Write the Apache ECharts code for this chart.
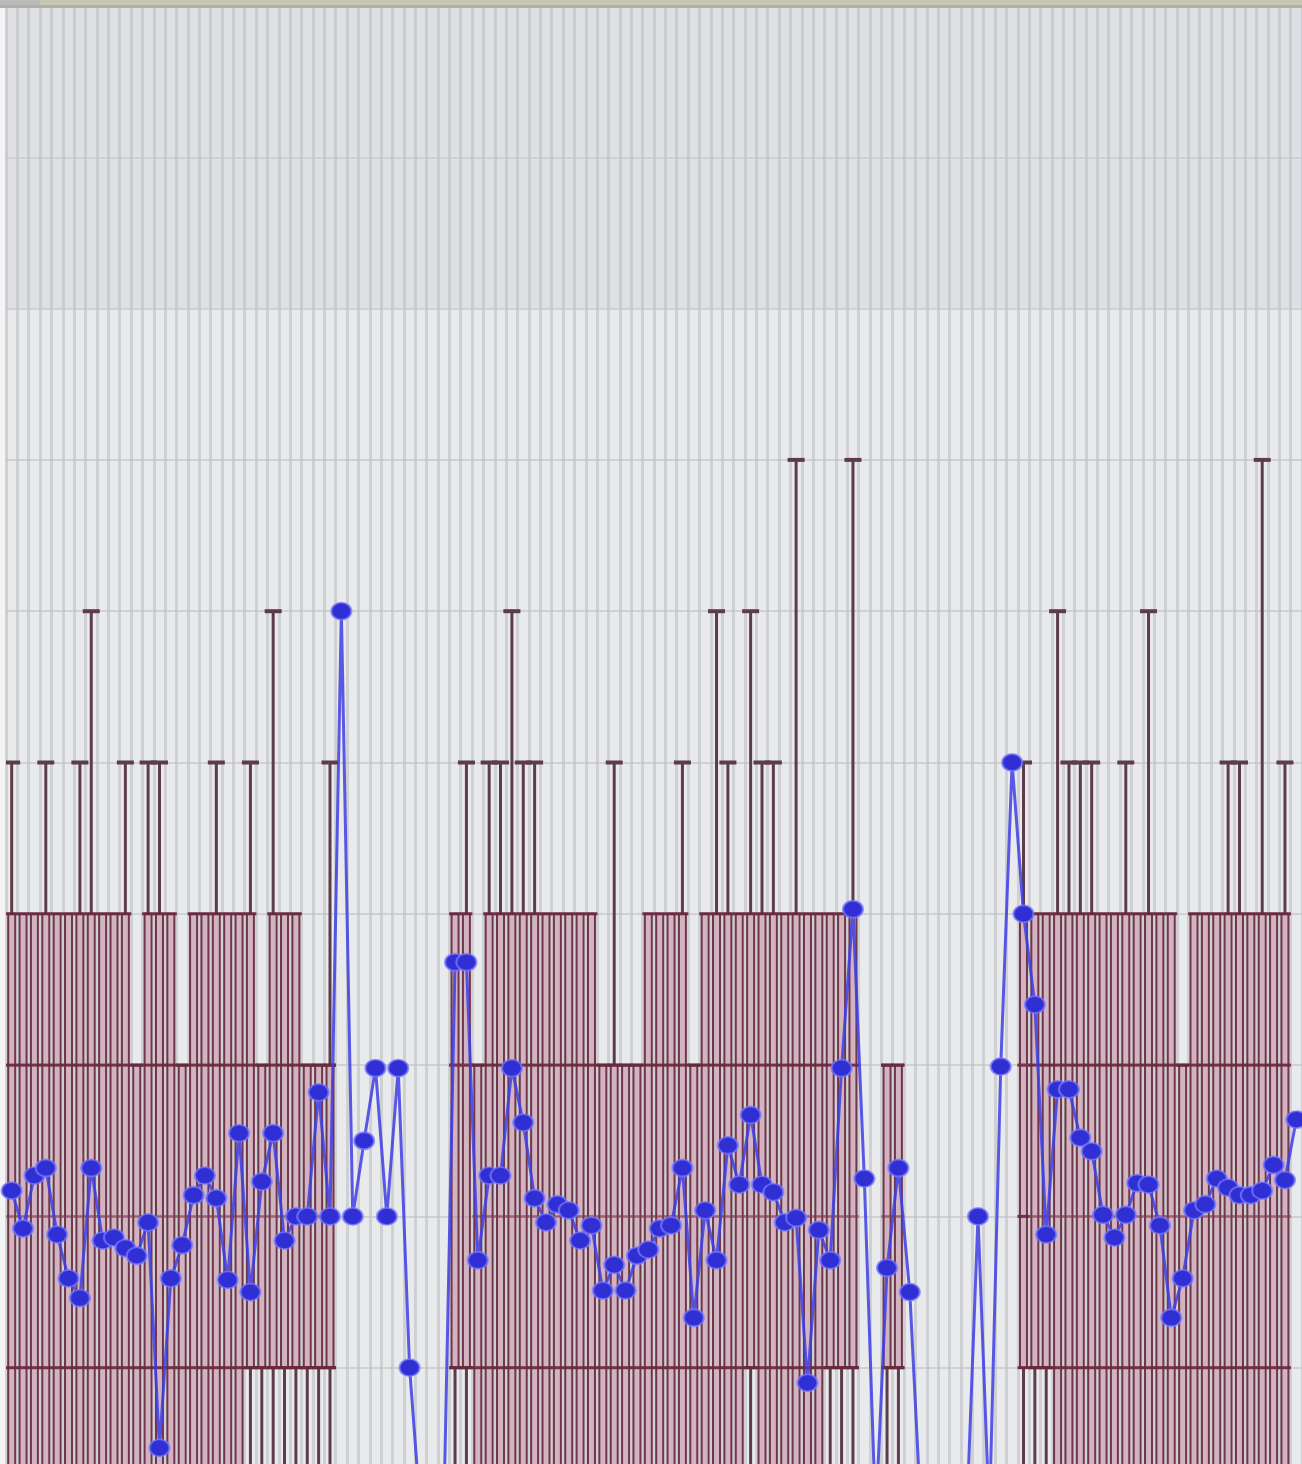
<!DOCTYPE html>
<html><head><meta charset="utf-8">
<script src="https://cdn.jsdelivr.net/npm/echarts@6/dist/echarts.min.js"></script>
<style>html,body{margin:0;padding:0;background:#f4f4f4}#c{width:1302px;height:1464px}</style>
</head><body><div id="c"></div>
<script>
// ---- data (one range box + one mean per category) ----
const categories = Array.from({length:114}, (_, i) => String(i + 1));

const meanValues = [
 2.17,1.92,2.27,2.32,1.88,1.59,1.46,2.32,1.84,1.86,1.79,1.74,1.96,0.47,1.59,1.81,2.14,2.27,2.12,1.58,
 2.55,1.50,2.23,2.55,1.84,2.00,2.00,2.82,2.00,6.00,2.00,2.50,2.98,2.00,2.98,1.00,0,0,0,
 3.68,3.68,1.71,2.27,2.27,2.98,2.62,2.12,1.96,2.08,2.04,1.84,1.94,1.51,1.68,1.51,1.74,1.78,1.92,1.94,
 2.32,1.33,2.04,1.71,2.47,2.21,2.67,2.21,2.16,1.96,1.99,0.90,1.91,1.71,2.98,4.03,2.25,0,1.66,2.32,1.50,
 0,0,0,0,0,2.00,0,2.99,5.00,4.00,3.40,1.88,2.84,2.84,2.52,2.43,2.01,1.86,2.01,2.22,
 2.21,1.94,1.33,1.59,2.04,2.08,2.25,2.19,2.14,2.14,2.17,2.34,2.24,2.64
];

const N = null;
// lower whisker end
const boxMin = [
 0,0,0,0,0,0,0,0,0,0, 0,0,0,0,0,0,0,0,0,0, 0,0,0,0,0,0,0,0,0,6,
 N,N,N,N,N,N,N,N,N,
 0,0,0,0,0,0,0,0,0,0, 0,0,0,0,0,0,0,0,0,0, 0,0,0,0,0,0,0,0,0,0, 0,0,0,0,0,0,0,N,0,0,0,
 N,N,N,N,N,N,N,N,N,
 0,0,0,0,0,0,0,0,0,0, 0,0,0,0,0,0,0,0,0,0, 0,0,0,0,0
];
// bottom of the box
const boxLow = [
 0,0,0,0,0,0,0,0,0,0, 0,0,0,0,0,0,0,0,0,0, 0,1,1,1,1,1,1,1,1,6,
 N,N,N,N,N,N,N,N,N,
 1,1,0,0,0,0,0,0,0,0, 0,0,0,0,0,0,0,0,0,0, 0,0,0,0,0,0,1,0,0,0, 0,0,0,1,1,1,N,1,1,1,
 N,N,N,N,N,N,N,N,N,
 2,1,1,1,0,0,0,0,0,0, 0,0,0,0,0,0,0,0,0,0, 0,0,0,0,0
];
const boxQ1 = [
 1,1,1,1,1,1,1,1,1,1, 1,1,1,1,1,1,1,1,1,1, 1,1,1,1,1,1,1,1,1,6,
 N,N,N,N,N,N,N,N,N,
 1,1,1,1,1,1,1,1,1,1, 1,1,1,1,1,1,1,1,1,1, 1,1,1,1,1,1,1,1,1,1, 1,1,1,1,1,1,1,N,1,1,1,
 N,N,N,N,N,N,N,N,N,
 2,1,1,1,1,1,1,1,1,1, 1,1,1,1,1,1,1,1,1,1, 1,1,1,1,1
];
const boxMedian = [
 2,2,2,2,2,2,2,2,2,2, 2,2,2,2,2,2,2,2,2,2, 2,2,2,2,2,2,2,2,2,6,
 N,N,N,N,N,N,N,N,N,
 3,3,2,2,2,2,2,2,2,2, 2,2,2,2,2,2,2,2,2,2, 2,2,2,2,2,2,2,2,2,2, 2,2,2,2,2,2,2,N,2,2,2,
 N,N,N,N,N,N,N,N,N,
 3,2,2,2,2,2,2,2,2,2, 2,2,2,2,2,2,2,2,2,2, 2,2,2,2,2
];
const boxQ3 = [
 3,3,3,3,3,3,3,3,3,3, 3,3,3,3,3,3,3,3,3,3, 3,3,3,3,3,3,3,3,3,6,
 N,N,N,N,N,N,N,N,N,
 3,3,3,3,3,3,3,3,3,3, 3,3,3,3,3,3,3,3,3,3, 3,3,3,3,3,3,3,3,3,3, 3,3,3,3,3,3,3,N,3,3,3,
 N,N,N,N,N,N,N,N,N,
 3,3,3,3,3,3,3,3,3,3, 3,3,3,3,3,3,3,3,3,3, 3,3,3,3,3
];
// top of the box
const boxHigh = [
 4,4,4,4,4,4,4,4,4,4, 4,3,4,4,4,3,4,4,4,4, 4,4,3,4,4,4,3,3,3,6,
 N,N,N,N,N,N,N,N,N,
 4,4,3,4,4,4,4,4,4,4, 4,4,4,3,3,3,3,4,4,4, 4,3,4,4,4,4,4,4,4,4, 4,4,4,4,4,4,4,N,3,3,3,
 N,N,N,N,N,N,N,N,N,
 4,4,4,4,4,4,4,4,4,4, 4,4,4,4,3,4,4,4,4,4, 4,4,4,4,4
];
// upper whisker end
const boxMax = [
 5,4,4,5,4,4,5,6,4,4, 5,3,5,5,4,3,4,4,5,4, 4,5,3,6,4,4,3,3,5,6,
 N,N,N,N,N,N,N,N,N,
 4,5,3,5,5,6,5,5,4,4, 4,4,4,3,5,3,3,4,4,4, 5,3,4,6,5,4,6,5,5,4, 7,4,4,4,4,7,4,N,3,3,3,
 N,N,N,N,N,N,N,N,N,
 5,4,4,6,5,5,5,4,4,5, 4,6,4,4,3,4,4,4,5,5, 4,7,4,5,5,6
];

const boxData = [];
for (let i = 0; i < categories.length; i++) {
  if (boxLow[i] == null || boxMax[i] == null) continue;
  boxData.push([i, boxMin[i], boxLow[i], boxQ1[i], boxMedian[i], boxQ3[i], boxHigh[i], boxMax[i]]);
}

function renderBox(params, api) {
  const i = api.value(0);
  const y = k => api.coord([i, api.value(k)])[1];
  const cx = api.coord([i, api.value(1)])[0];
  const yMin = y(1), yLow = y(2), yQ1 = y(3), yMed = y(4), yQ3 = y(5), yHigh = y(6), yMax = y(7);
  const bw = 7, cap = 17, hw = 12;
  const edge = 'rgba(104,40,62,0.92)';
  const soft = 'rgba(130,55,75,0.6)';
  const stem = '#5d3c49';
  const ch = [];
  ch.push({type:'line', shape:{x1:cx, y1:yHigh, x2:cx, y2:yMax}, style:{stroke:stem, lineWidth:3}});
  ch.push({type:'line', shape:{x1:cx, y1:yLow, x2:cx, y2:yMin}, style:{stroke:stem, lineWidth:3}});
  ch.push({type:'rect', shape:{x:cx - bw/2, y:yHigh, width:bw, height:yLow - yHigh},
           style:{fill:'rgba(165,85,115,0.36)', stroke:edge, lineWidth:2}});
  [yHigh, yQ3, yQ1, yLow].forEach(v => ch.push({type:'line', shape:{x1:cx - hw/2, y1:v, x2:cx + hw/2, y2:v},
           style:{stroke:edge, lineWidth:3}}));
  ch.push({type:'line', shape:{x1:cx - hw/2, y1:yMed, x2:cx + hw/2, y2:yMed}, style:{stroke:soft, lineWidth:2.5}});
  if (yMax < yHigh - 0.5) ch.push({type:'line', shape:{x1:cx - cap/2, y1:yMax, x2:cx + cap/2, y2:yMax}, style:{stroke:stem, lineWidth:4}});
  if (yMin > yLow + 0.5) ch.push({type:'line', shape:{x1:cx - cap/2, y1:yMin, x2:cx + cap/2, y2:yMin}, style:{stroke:stem, lineWidth:4}});
  return {type:'group', children: ch};
}

const chart = echarts.init(document.getElementById('c'), null, {renderer:'canvas'});
chart.setOption({
  backgroundColor: '#f4f4f4',
  animation: false,
  grid: {left: 6, top: 6, width: 1296, height: 1513, containLabel: false, outerBoundsMode: 'none'},
  xAxis: {
    type: 'category', data: categories, boundaryGap: true,
    axisLine: {show: false}, axisTick: {show: false}, axisLabel: {show: false},
    splitLine: {show: true, interval: 0, lineStyle: {color: 'rgba(192,194,200,0.65)', width: 3}}
  },
  yAxis: {
    type: 'value', min: 0, max: 10, interval: 1,
    axisLine: {show: false}, axisTick: {show: false}, axisLabel: {show: false},
    splitLine: {show: true, lineStyle: {color: 'rgba(205,206,210,0.9)', width: 2}},
    splitArea: {show: true, areaStyle: {color: ['#e9eaec','#e9eaec','#e9eaec','#e9eaec','#e9eaec','#e9eaec','#e9eaec','#e9eaec','#dfe0e3','#dfe0e3']}}
  },
  graphic: [
    {type:'rect', left:0, top:0, shape:{width:1302, height:7}, style:{fill:'#c5c6b3'}, z:100},
    {type:'rect', left:0, top:5, shape:{width:1302, height:3}, style:{fill:'#aeafa5'}, z:101},
    {type:'rect', left:0, top:0, shape:{width:40, height:5}, style:{fill:'#b9b9b9'}, z:102}
  ],
  series: [
    {
      type: 'custom', name: 'range', renderItem: renderBox, data: boxData,
      encode: {x: 0, y: [1,2,3,4,5,6,7]}, clip: true, z: 2
    },
    {
      type: 'line', name: 'mean', data: meanValues, z: 5,
      showSymbol: true, showAllSymbol: true,
      symbol: 'circle', symbolSize: [20, 17],
      lineStyle: {color: 'rgba(62,62,228,0.85)', width: 3},
      itemStyle: {color: '#2f2fd4', borderColor: 'rgba(120,120,255,0.75)', borderWidth: 2}
    }
  ]
});
</script></body></html>
